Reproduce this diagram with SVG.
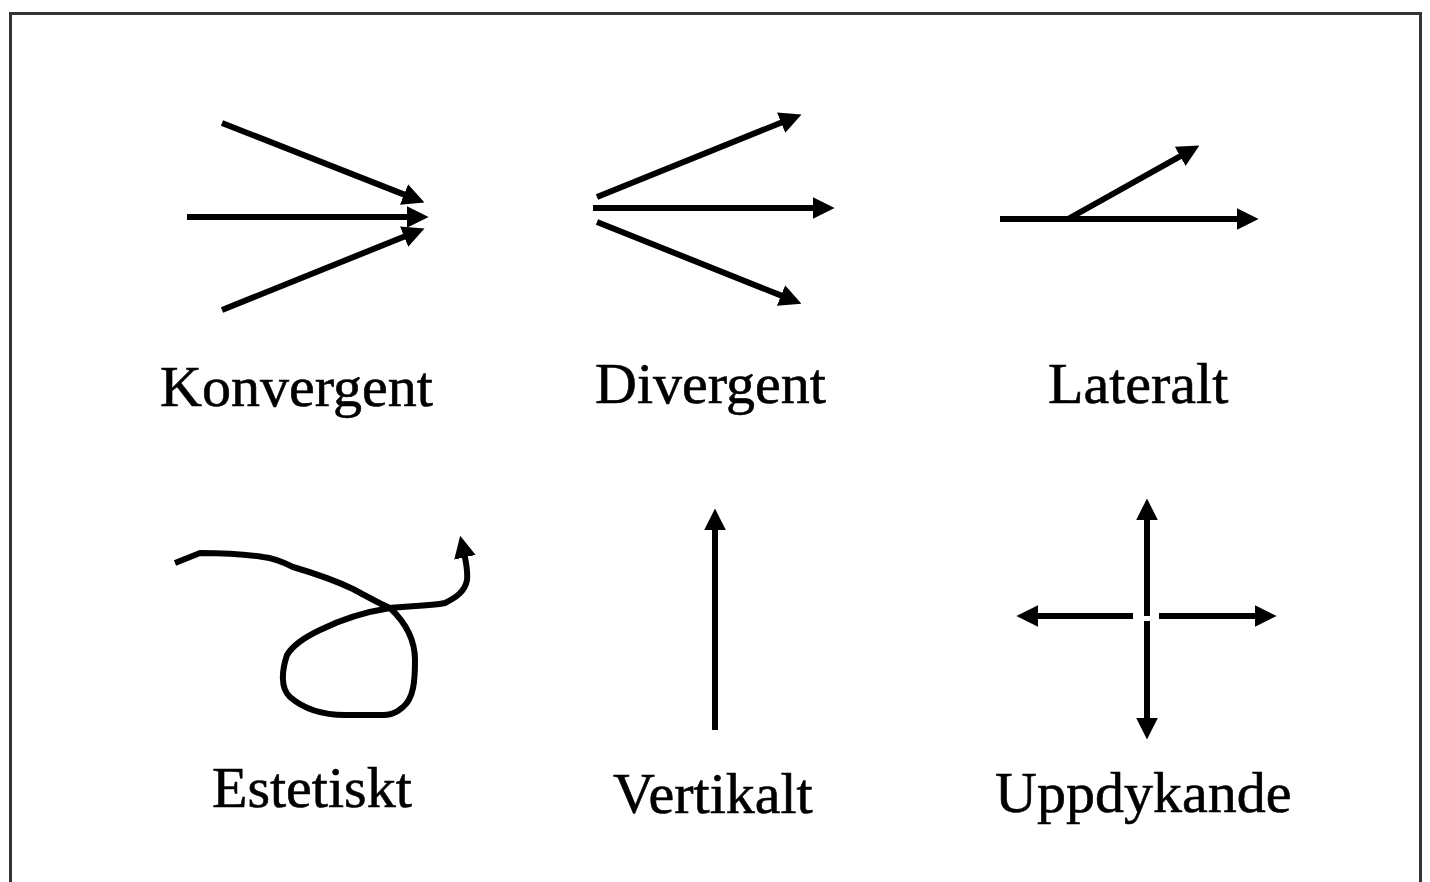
<svg xmlns="http://www.w3.org/2000/svg" width="1430" height="882" viewBox="0 0 1430 882">
<style>
.ln{stroke:#000;stroke-width:6;fill:none;marker-end:url(#ah)}
.lbl{font-family:"Liberation Serif","Times New Roman",serif;font-size:58px;fill:#000;stroke:#000;stroke-width:0.6}
</style>
<defs>
<marker id="ah" markerUnits="userSpaceOnUse" markerWidth="22" markerHeight="22" viewBox="0 0 20 20" refX="4" refY="10" orient="auto">
<path d="M0,0 L20,10 L0,20 z" fill="#000"/>
</marker>
</defs>
<rect width="1430" height="882" fill="#fff"/>
<rect x="10.5" y="13.5" width="1410" height="900" fill="none" stroke="#333" stroke-width="3"/>
<g id="connectors">
<g id="konvergent-arrows">
<line class="ln" x1="222" y1="123" x2="408.1" y2="196.1"/>
<line class="ln" x1="187" y1="217" x2="411" y2="217"/>
<line class="ln" x1="222" y1="310" x2="408.2" y2="235"/>
</g>
<g id="divergent-arrows">
<line class="ln" x1="597" y1="197" x2="785.2" y2="121"/>
<line class="ln" x1="593" y1="208" x2="817" y2="208"/>
<line class="ln" x1="597" y1="222" x2="785.1" y2="297.1"/>
</g>
<g id="lateralt-arrows">
<line class="ln" x1="1000" y1="219" x2="1241" y2="219"/>
<line class="ln" x1="1068" y1="219" x2="1184" y2="154.2"/>
</g>
<g id="estetiskt-arrow">
<path class="ln" stroke-linejoin="round" d="M175,563 L200,553 C230,553 250,555 263,557 C275,558 285,563 293,567 C310,572 330,578 353,589 C370,598 380,604 390,608 C405,622 415,640 415,660 C415,680 414,698 403,707 C395,714 390,715 380,715 L345,715 C325,715 305,710 290,697 C280,688 282,670 287,655 C293,645 303,638 320,630 C340,620 365,612 390,608 C410,606 430,606 445,603 C455,598 465,592 467,580 C468,570 466,562 464,553"/>
</g>
<g id="vertikalt-arrow">
<line class="ln" x1="715" y1="730" x2="715" y2="526"/>
</g>
<g id="uppdykande-arrows">
<line class="ln" x1="1147" y1="616" x2="1147" y2="516"/>
<line class="ln" x1="1147" y1="621" x2="1147" y2="722"/>
<line class="ln" x1="1133" y1="616" x2="1034" y2="616"/>
<line class="ln" x1="1159" y1="616" x2="1259" y2="616"/>
</g>
</g>
<g id="node-konvergent"><text class="lbl" x="160" y="406">Konvergent</text></g>
<g id="node-divergent"><text class="lbl" x="595" y="403">Divergent</text></g>
<g id="node-lateralt"><text class="lbl" x="1048" y="403">Lateralt</text></g>
<g id="node-estetiskt"><text class="lbl" x="212" y="807">Estetiskt</text></g>
<g id="node-vertikalt"><text class="lbl" x="613" y="813">Vertikalt</text></g>
<g id="node-uppdykande"><text class="lbl" x="995" y="812">Uppdykande</text></g>
</svg>
